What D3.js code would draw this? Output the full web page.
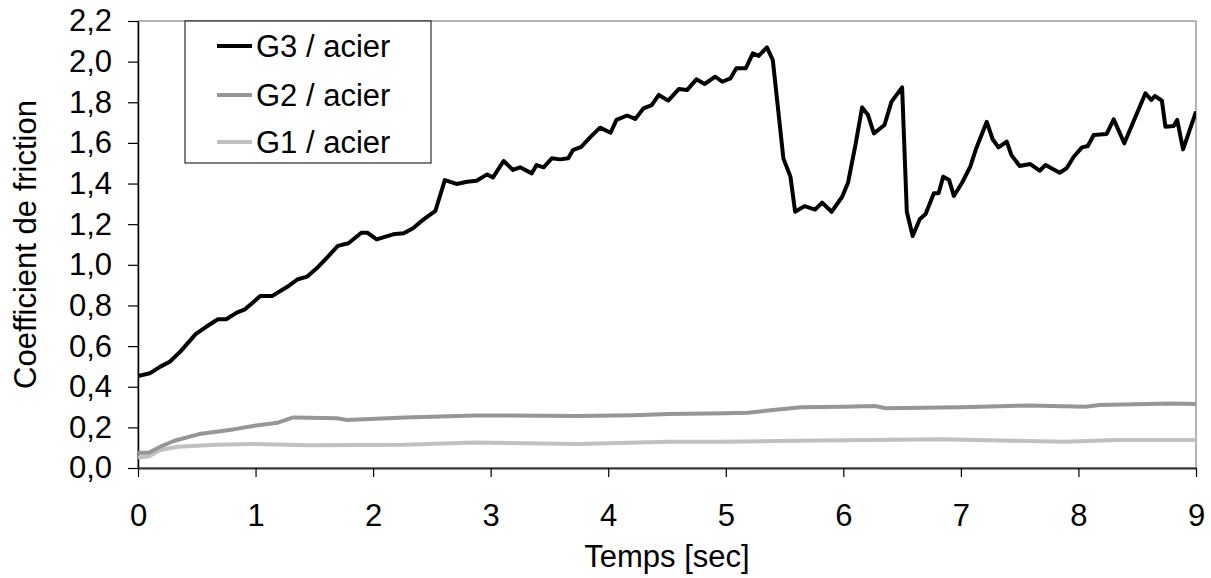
<!DOCTYPE html>
<html><head><meta charset="utf-8">
<script src="https://cdn.jsdelivr.net/npm/d3@7"></script>
<style>body{margin:0;background:#fff}svg{display:block}text{font-family:"Liberation Sans",Arial,sans-serif;fill:#000}</style>
</head><body><svg id="c" width="1211" height="578"></svg>
<script>
const xTicks = [0,1,2,3,4,5,6,7,8,9];
const yTicks = [0,0.2,0.4,0.6,0.8,1.0,1.2,1.4,1.6,1.8,2.0,2.2];
const seriesNames = ["G3 / acier","G2 / acier","G1 / acier"];
const seriesColors = ["#000000","#969696","#c0c0c0"];

const g3T = [0,0.10,0.19,0.27,0.36,0.49,0.58,0.68,0.75,0.84,0.91,1.04,1.14,1.27,1.36,1.44,1.52,1.61,1.70,1.79,1.90,1.95,2.03,2.17,2.26,2.34,2.43,2.53,2.61,2.71,2.80,2.88,2.97,3.02,3.11,3.19,3.25,3.35,3.39,3.45,3.52,3.59,3.66,3.70,3.77,3.85,3.93,4.02,4.07,4.16,4.23,4.30,4.37,4.43,4.51,4.60,4.67,4.75,4.82,4.91,4.97,5.04,5.09,5.17,5.23,5.28,5.35,5.40,5.49,5.55,5.59,5.67,5.76,5.82,5.90,5.99,6.04,6.10,6.16,6.21,6.26,6.35,6.41,6.50,6.54,6.59,6.65,6.70,6.77,6.81,6.85,6.90,6.94,7.01,7.08,7.13,7.22,7.27,7.32,7.39,7.43,7.50,7.59,7.67,7.72,7.84,7.90,7.96,8.03,8.08,8.13,8.24,8.30,8.39,8.48,8.57,8.62,8.65,8.71,8.74,8.81,8.84,8.89,9.00];
const g3V = [0.453,0.466,0.499,0.523,0.573,0.659,0.695,0.732,0.732,0.765,0.781,0.846,0.846,0.892,0.929,0.942,0.983,1.037,1.093,1.106,1.158,1.158,1.125,1.150,1.155,1.180,1.224,1.266,1.417,1.398,1.409,1.414,1.445,1.430,1.511,1.467,1.480,1.450,1.491,1.480,1.524,1.519,1.524,1.565,1.581,1.630,1.675,1.650,1.713,1.735,1.718,1.770,1.786,1.836,1.808,1.865,1.860,1.913,1.890,1.926,1.901,1.918,1.967,1.967,2.041,2.028,2.070,2.008,1.524,1.434,1.261,1.289,1.272,1.306,1.261,1.335,1.404,1.581,1.775,1.737,1.647,1.688,1.803,1.873,1.261,1.142,1.224,1.250,1.352,1.352,1.434,1.417,1.339,1.404,1.483,1.573,1.704,1.618,1.578,1.606,1.540,1.486,1.496,1.463,1.491,1.453,1.475,1.532,1.578,1.585,1.639,1.644,1.716,1.598,1.721,1.844,1.811,1.831,1.808,1.680,1.683,1.713,1.568,1.754];

const g2T = [0,0.09,0.19,0.31,0.52,0.81,0.98,1.19,1.32,1.69,1.78,2.27,2.86,3.74,4.21,4.52,5.00,5.19,5.34,5.64,6.00,6.27,6.36,7.00,7.58,8.06,8.18,8.78,9.00];
const g2V = [0.075,0.075,0.105,0.134,0.167,0.190,0.207,0.223,0.249,0.245,0.236,0.249,0.259,0.256,0.260,0.266,0.269,0.272,0.282,0.299,0.302,0.305,0.294,0.299,0.308,0.302,0.310,0.318,0.315];

const g1T = [0,0.09,0.19,0.34,0.66,0.98,1.45,2.27,2.86,3.74,4.52,5.00,5.58,6.23,6.84,7.43,7.88,8.33,9.00];
const g1V = [0.053,0.056,0.089,0.105,0.115,0.118,0.112,0.115,0.125,0.118,0.129,0.129,0.134,0.138,0.141,0.134,0.129,0.138,0.138];

const svg = d3.select("#c");
const L=138, R=1196, T=21, B=468;
const x = d3.scaleLinear().domain([0,9]).range([L,R]);
const y = d3.scaleLinear().domain([0,2.2]).range([B,T]);
const FS = 31;

// plot border
svg.append("rect").attr("x",L).attr("y",T).attr("width",R-L).attr("height",B-T)
  .attr("fill","none").attr("stroke","#808080").attr("stroke-width",1.2);

const fmt = v => d3.format(".1f")(v).replace(".",",");
const yAxis = svg.append("g").attr("transform",`translate(${L},0)`)
  .call(d3.axisLeft(y).tickValues(yTicks).tickFormat(fmt).tickSize(10).tickPadding(16).tickSizeOuter(0));
const xAxis = svg.append("g").attr("transform",`translate(0,${B})`)
  .call(d3.axisBottom(x).tickValues(xTicks).tickFormat(d3.format("d")).tickSize(9).tickPadding(27).tickSizeOuter(0));
[yAxis,xAxis].forEach(a=>{
  a.selectAll("text").attr("font-size",FS).attr("font-family",'"Liberation Sans",Arial,sans-serif').attr("fill","#000");
  a.selectAll("line").attr("stroke","#000").attr("stroke-width",1.2);
  a.select(".domain").attr("stroke","#000").attr("stroke-width",1.5);
});
xAxis.select(".domain").attr("stroke","#333").attr("stroke-width",2);

const line = d3.line().x(d=>x(d[0])).y(d=>y(d[1])).curve(d3.curveLinear);
const clip = svg.append("clipPath").attr("id","pc").append("rect").attr("x",L).attr("y",T-5).attr("width",R-L).attr("height",B-T+5);
const series = [[g1T,g1V,2],[g2T,g2V,1],[g3T,g3V,0]];
series.forEach(([tt,vv,i])=>{
  svg.append("path").datum(tt.map((t,k)=>[t,vv[k]]))
    .attr("d",line).attr("fill","none").attr("stroke",seriesColors[i])
    .attr("stroke-width",4).attr("stroke-linejoin","round").attr("clip-path","url(#pc)");
});

// legend
const lg = svg.append("g");
lg.append("rect").attr("x",185).attr("y",21).attr("width",246).attr("height",142)
  .attr("fill","#fff").attr("stroke","#000").attr("stroke-width",1);
const rowsY = [46,95,142];
seriesNames.forEach((n,i)=>{
  lg.append("line").attr("x1",217).attr("x2",252).attr("y1",rowsY[i]).attr("y2",rowsY[i])
    .attr("stroke",seriesColors[i]).attr("stroke-width",4);
  lg.append("text").attr("x",256).attr("y",rowsY[i]).attr("dy","0.35em").attr("font-size",FS).text(n);
});

svg.append("text").attr("transform",`translate(25,${(T+B)/2}) rotate(-90)`)
  .attr("text-anchor","middle").attr("dy","0.35em").attr("font-size",FS).text("Coefficient de friction");
svg.append("text").attr("x",(L+R)/2).attr("y",567).attr("text-anchor","middle").attr("font-size",FS).text("Temps [sec]");
</script></body></html>
